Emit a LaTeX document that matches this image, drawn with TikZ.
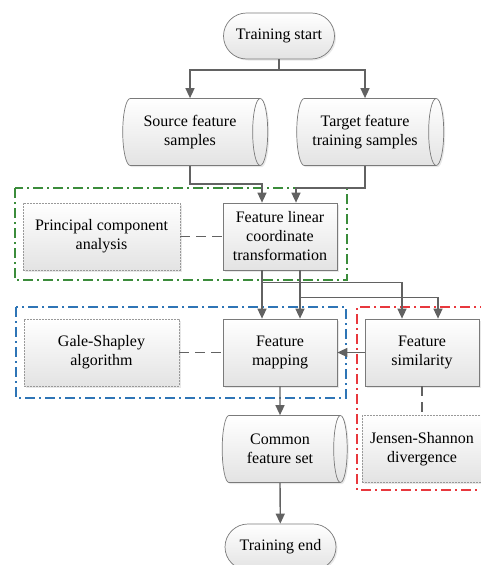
\documentclass[tikz,border=0pt]{standalone}
\usepackage{fontspec}
\setmainfont{Liberation Serif}
\usetikzlibrary{shapes.geometric,shapes.misc,shadows,arrows.meta,backgrounds}

\definecolor{lnc}{HTML}{626262}
\definecolor{grpgreen}{HTML}{3B8C3B}
\definecolor{grpblue}{HTML}{2E75B6}
\definecolor{grpred}{HTML}{E8383D}

\tikzset{
  base/.style={draw=lnc!85,line width=.7pt,top color=white,bottom color=gray!22,
    align=center,font=\fontsize{16}{19}\selectfont,inner sep=2pt,
    drop shadow={opacity=.18,shadow xshift=1.5pt,shadow yshift=-1.5pt}},
  proc/.style={base,rectangle,minimum width=114pt,minimum height=67pt},
  aux/.style={base,rectangle,draw=gray!80,dash pattern=on 2pt off 1pt,minimum height=67pt},
  term/.style={base,rounded rectangle,minimum width=115pt,minimum height=46pt},
  store/.style={base,cylinder,shape border rotate=0,aspect=.4,minimum width=67pt,minimum height=145pt},
  grp/.style={line width=1.2pt,dash pattern=on 10pt off 4pt on 2pt off 4pt},
  flow/.style={draw=lnc,line width=1.4pt,-{Triangle[length=10pt,width=9pt]}},
  link/.style={draw=lnc,line width=1.4pt,dash pattern=on 10pt off 6pt}
}

\begin{document}
\begin{tikzpicture}[x=1pt,y=1pt]
\useasboundingbox (0,0) rectangle (480,-565);
\draw[grp,grpgreen] (15,-188) rectangle (347,-280);
\draw[grp,grpblue] (16,-307) rectangle (346,-398);
\draw[grp,grpred] (490,-307) -- (357,-307) -- (357,-490) -- (490,-490);

\node (start) [term] at (279,-36) {Training start};
\node (src) [store] at (190,-132) {Source feature\\samples};
\node (tgt) [store,minimum height=147pt] at (365,-132) {Target feature\\training samples};
\node (flct) [proc] at (280,-236.5) {Feature linear\\coordinate\\transformation};
\node (pca) [aux,minimum width=157pt] at (101.5,-236.5) {Principal component\\analysis};
\node (fmap) [proc] at (280,-352.5) {Feature\\mapping};
\node (gs) [aux,minimum width=155pt] at (101.5,-352.5) {Gale-Shapley\\algorithm};
\node (fsim) [proc] at (422,-352.5) {Feature\\similarity};
\node (js) [aux,minimum width=120pt] at (422,-449) {Jensen-Shannon\\divergence};
\node (common) [store,minimum height=125pt] at (280,-449) {Common\\feature set};
\node (stop) [term] at (280.5,-547) {Training end};

\begin{scope}[on background layer]
\foreach \n in {src,tgt,common}
  \fill[gray!8] (\n.south west) rectangle (\n.north east);
\end{scope}

\coordinate (split) at (279,-70);
\draw[line width=1.4pt,lnc] (start.south) -- (split);
\draw[flow] (split) -| (src.north);
\draw[flow] (split) -| (tgt.north);
\draw[flow] (src.south) -- ++(0,-18) -| ([xshift=-18]flct.north);
\draw[flow] (tgt.south) -- ++(0,-22) -| ([xshift=16]flct.north);
\draw[flow] ([xshift=-18]flct.south) -- ([xshift=-18]fmap.north);
\draw[flow] ([xshift=20]flct.south) -- ([xshift=20]fmap.north);
\draw[flow] ([xshift=-18]flct.south) ++(0,-12) -| ([xshift=-20]fsim.north);
\draw[flow] ([xshift=20]flct.south) ++(0,-27) -| ([xshift=16]fsim.north);
\draw[link] (pca) -- (flct);
\draw[link] (gs) -- (fmap);
\draw[link] (fsim) -- (js);
\draw[flow] (fsim) -- (fmap);
\draw[flow] (fmap) -- (common.north);
\draw[flow] (common.south) -- (stop);
\end{tikzpicture}
\end{document}
